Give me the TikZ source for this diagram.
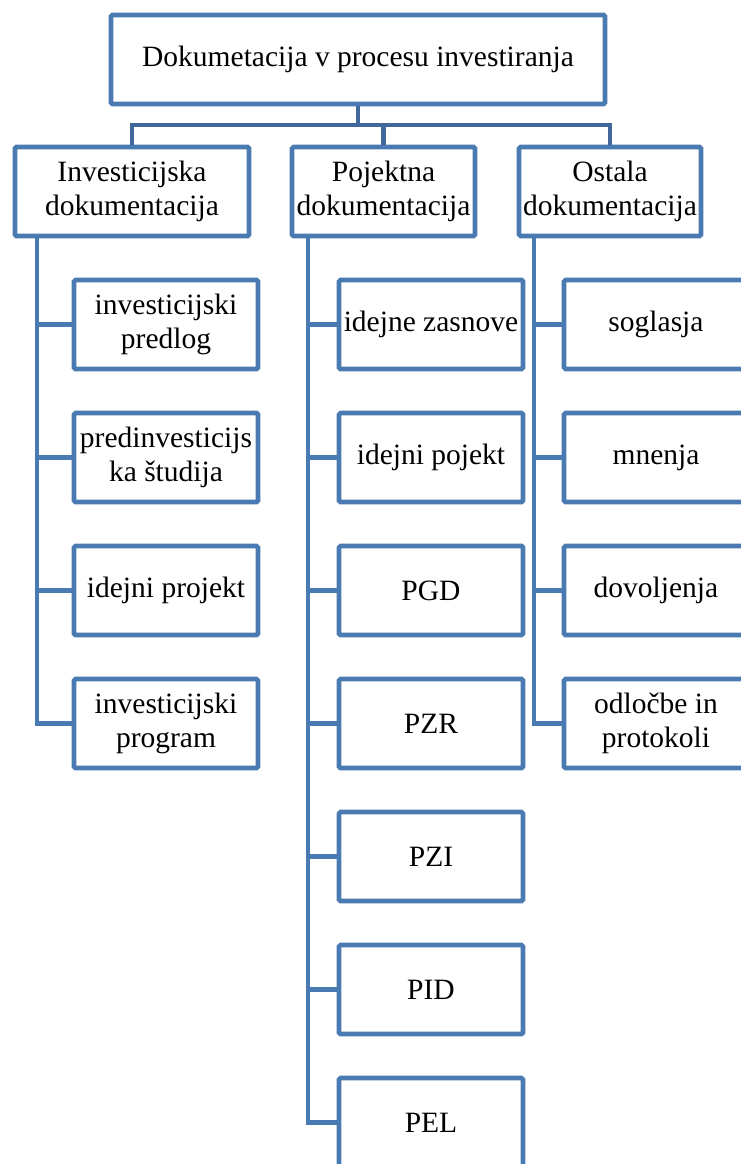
\documentclass[tikz,border=0pt]{standalone}
\usepackage{fontspec}
\setmainfont{Liberation Serif}
\definecolor{boxblue}{RGB}{74,122,178}
\definecolor{barblue}{RGB}{64,104,154}

\begin{document}
\begin{tikzpicture}[x=1pt,y=-1pt]
\tikzset{
  every node/.style={font=\fontsize{29.5}{33.5}\selectfont, align=center, inner sep=0pt},
  docbox/.style={draw=boxblue, line width=4.6pt, fill=white, minimum height=89pt, rounded corners=1.5pt},
  itembox/.style={docbox, minimum width=184pt},
  link/.style={draw=boxblue, line width=4.6pt},
  barlink/.style={draw=barblue, line width=4.6pt}
}
\useasboundingbox (0,0) rectangle (741,1164);
\clip (0,0) rectangle (741,1164);

\node[docbox, minimum width=494pt] (doc) at (358,59.5) {Dokumetacija v procesu investiranja};
\node[docbox, minimum width=234pt] (inv) at (132,191.5) {Investicijska\\dokumentacija};
\node[docbox, minimum width=183pt] (poj) at (383.5,191.5) {Pojektna\\dokumentacija};
\node[docbox, minimum width=182pt] (ost) at (610,191.5) {Ostala\\dokumentacija};

\coordinate (bar) at (0,125);
\coordinate (invx) at (37,0);
\coordinate (pojx) at (308,0);
\coordinate (ostx) at (534,0);

\draw[barlink] (doc.south) -- (doc.south |- bar);
\draw[barlink] (inv.north) |- (ost.north |- bar) -- (ost.north);
\draw[barlink] (poj.north) -- (poj.north |- bar);

\foreach \name/\txt [count=\i] in {ipr/{investicijski\\predlog}, pst/{predinvesticijs\\ka študija},
    ipj/{idejni projekt}, ipg/{investicijski\\program}}
  \node[itembox] (\name) at (166,191.5+133*\i) {\txt};
\foreach \name/\txt [count=\i] in {zas/{idejne zasnove}, ijp/{idejni pojekt}, pgd/PGD, pzr/PZR,
    pzi/PZI, pid/PID, pel/PEL}
  \node[itembox] (\name) at (431,191.5+133*\i) {\txt};
\foreach \name/\txt [count=\i] in {sog/soglasja, mne/mnenja, dov/dovoljenja, odl/{odločbe in\\protokoli}}
  \node[itembox] (\name) at (656,191.5+133*\i) {\txt};

\draw[link] (inv.south -| invx) |- (ipg.west);
\foreach \c in {ipr,pst,ipj}
  \draw[link] (\c.west) -- (\c.west -| invx);
\draw[link] (poj.south -| pojx) |- (pel.west);
\foreach \c in {zas,ijp,pgd,pzr,pzi,pid}
  \draw[link] (\c.west) -- (\c.west -| pojx);
\draw[link] (ost.south -| ostx) |- (odl.west);
\foreach \c in {sog,mne,dov}
  \draw[link] (\c.west) -- (\c.west -| ostx);
\end{tikzpicture}
\end{document}
